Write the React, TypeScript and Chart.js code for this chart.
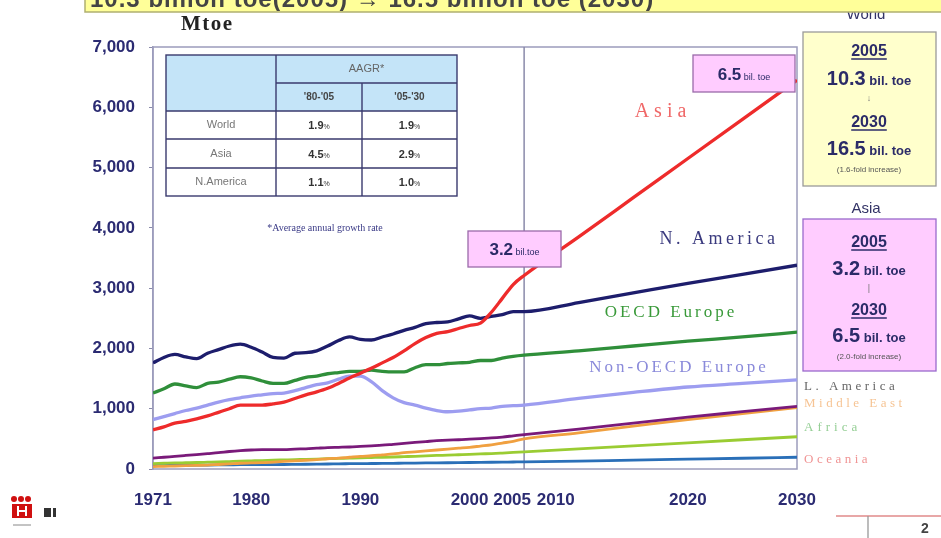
import React, { useEffect, useRef } from "react";
import { Chart, registerables } from "chart.js";

Chart.register(...registerables);

// ---------- data ----------
const YEARS = [
  1971, 1972, 1973, 1974, 1975, 1976, 1977, 1978, 1979, 1980,
  1981, 1982, 1983, 1984, 1985, 1986, 1987, 1988, 1989, 1990,
  1991, 1992, 1993, 1994, 1995, 1996, 1997, 1998, 1999, 2000,
  2001, 2002, 2003, 2004, 2005, 2010, 2015, 2020, 2025, 2030,
];
const X_TICKS = [1971, 1980, 1990, 2000, 2005, 2010, 2020, 2030];
const Y_TICK_STEP = 1000;
const Y_MAX = 7000;
const PROJECTION_START = 2005;

const ASIA = [
  650, 700, 760, 790, 830, 880, 940, 1000, 1060, 1060,
  1060, 1080, 1110, 1170, 1230, 1280, 1340, 1420, 1510, 1590,
  1670, 1760, 1850, 1960, 2080, 2180, 2250, 2280, 2330, 2380,
  2420, 2600, 2830, 3060, 3210, 3850, 4500, 5150, 5800, 6450,
];
const N_AMERICA = [
  1760, 1850, 1900, 1860, 1830, 1920, 1980, 2040, 2070, 2020,
  1940, 1850, 1840, 1920, 1930, 1960, 2040, 2130, 2190, 2150,
  2140, 2190, 2240, 2300, 2350, 2410, 2430, 2440, 2490, 2540,
  2500, 2530, 2560, 2610, 2610, 2760, 2920, 3080, 3230, 3380,
];
const OECD_EUROPE = [
  1260, 1330, 1410, 1380, 1350, 1420, 1440, 1490, 1530, 1510,
  1460, 1420, 1420, 1470, 1520, 1540, 1580, 1600, 1620, 1620,
  1640, 1620, 1610, 1610, 1680, 1730, 1730, 1750, 1760, 1770,
  1800, 1800, 1840, 1870, 1890, 1960, 2040, 2120, 2190, 2270,
];
const NON_OECD_EUROPE = [
  820, 870, 920, 970, 1010, 1060, 1110, 1150, 1180, 1210,
  1230, 1250, 1260, 1300, 1350, 1400, 1430, 1490, 1540, 1540,
  1450, 1300, 1180, 1100, 1060, 1010, 970, 950, 960, 980,
  1000, 1010, 1040, 1050, 1060, 1170, 1270, 1360, 1420, 1480,
];
const L_AMERICA = [
  180, 195, 210, 225, 240, 255, 270, 290, 305, 315,
  320, 320, 320, 330, 335, 345, 355, 360, 365, 375,
  385, 395, 410, 425, 440, 455, 470, 480, 485, 495,
  505, 515, 530, 550, 570, 660, 760, 860, 950, 1040,
];
const MIDDLE_EAST = [
  40, 45, 50, 55, 60, 65, 75, 85, 95, 100,
  105, 115, 125, 135, 145, 155, 170, 180, 195, 210,
  220, 235, 250, 270, 285, 300, 315, 330, 345, 360,
  380, 400, 430, 460, 500, 600, 710, 820, 920, 1020,
];
const AFRICA = [
  90, 95, 100, 104, 108, 113, 118, 124, 130, 135,
  140, 146, 151, 156, 160, 165, 171, 176, 181, 186,
  190, 194, 199, 205, 211, 219, 225, 230, 236, 242,
  250, 256, 265, 275, 285, 335, 385, 435, 485, 535,
];
const OCEANIA = [
  55, 57, 59, 61, 63, 65, 67, 69, 71, 72,
  73, 74, 75, 77, 79, 81, 83, 86, 88, 90,
  91, 92, 94, 96, 98, 100, 102, 104, 106, 108,
  110, 112, 114, 116, 118, 132, 148, 163, 178, 195,
];

const SERIES_NAMES = [
  "Asia", "N. America", "OECD Europe", "Non-OECD Europe",
  "L. America", "Middle East", "Africa", "Oceania",
];
const SERIES_VALUES = [
  ASIA, N_AMERICA, OECD_EUROPE, NON_OECD_EUROPE,
  L_AMERICA, MIDDLE_EAST, AFRICA, OCEANIA,
];
const SERIES_COLORS = [
  "#ee2b2b", "#1d1d6c", "#2f8f3a", "#9d9df0",
  "#7a1a7a", "#f0a040", "#9acc33", "#2a6fb8",
];

const TABLE_ROWS = ["World", "Asia", "N.America"];
const TABLE_PERIODS = ["'80-'05", "'05-'30"];
const AAGR_80_05 = ["1.9", "4.5", "1.1"];
const AAGR_05_30 = ["1.9", "2.9", "1.0"];

const WORLD_2005 = "10.3";
const WORLD_2030 = "16.5";
const ASIA_2005 = "3.2";
const ASIA_2030 = "6.5";

// crowded x labels are nudged left, as in the original slide
const X_LABEL_NUDGE: Record<number, number> = { 2005: -12, 2010: -23 };

const NAVY = "#2b2b68";
const TICK_COLOR = "#2b2b72";
const TICK_FONT_CSS = "bold 17px 'Liberation Sans', Arial, sans-serif";

type Part = { t: string; font: string; color?: string };

function drawParts(ctx: CanvasRenderingContext2D, parts: Part[], cx: number, cy: number, color: string) {
  let total = 0;
  const widths = parts.map((p) => {
    ctx.font = p.font;
    const w = ctx.measureText(p.t).width;
    total += w;
    return w;
  });
  let x = cx - total / 2;
  ctx.textAlign = "left";
  ctx.textBaseline = "alphabetic";
  parts.forEach((p, i) => {
    ctx.font = p.font;
    ctx.fillStyle = p.color || color;
    ctx.fillText(p.t, x, cy);
    x += widths[i];
  });
}

function spacedText(ctx: CanvasRenderingContext2D, t: string, x: number, y: number, font: string, color: string, spacing: number, align: CanvasTextAlign = "left") {
  ctx.save();
  ctx.font = font;
  ctx.fillStyle = color;
  (ctx as any).letterSpacing = spacing + "px";
  ctx.textAlign = align;
  ctx.textBaseline = "middle";
  ctx.fillText(t, x, y);
  ctx.restore();
}

function underlined(ctx: CanvasRenderingContext2D, t: string, cx: number, y: number, font: string, color: string) {
  ctx.font = font;
  ctx.fillStyle = color;
  ctx.textAlign = "center";
  ctx.textBaseline = "alphabetic";
  ctx.fillText(t, cx, y);
  const w = ctx.measureText(t).width;
  ctx.strokeStyle = color;
  ctx.lineWidth = 1.3;
  ctx.beginPath();
  ctx.moveTo(cx - w / 2, y + 3);
  ctx.lineTo(cx + w / 2, y + 3);
  ctx.stroke();
}

const framePlugin = {
  id: "frame",
  beforeDatasetsDraw(chart: any) {
    const { ctx, chartArea: a, scales } = chart;
    ctx.save();
    ctx.strokeStyle = "#9c9cbc";
    ctx.lineWidth = 1.5;
    ctx.strokeRect(a.left, a.top, a.right - a.left, a.bottom - a.top);
    const x = scales.x.getPixelForValue(PROJECTION_START);
    ctx.strokeStyle = "#8a8aaa";
    ctx.lineWidth = 1.5;
    ctx.beginPath();
    ctx.moveTo(x, a.top);
    ctx.lineTo(x, a.bottom);
    ctx.stroke();

    // x tick labels from the x scale
    ctx.font = TICK_FONT_CSS;
    ctx.fillStyle = TICK_COLOR;
    ctx.textAlign = "center";
    ctx.textBaseline = "middle";
    X_TICKS.forEach((v) => {
      const px = scales.x.getPixelForValue(v) + (X_LABEL_NUDGE[v] || 0);
      ctx.fillText(String(v), px, a.bottom + 31);
    });
    ctx.restore();
  },
};

const annotationPlugin = {
  id: "annotations",
  afterDraw(chart: any) {
    const ctx: CanvasRenderingContext2D = chart.ctx;
    ctx.save();

    // ---- "Mtoe" unit label
    ctx.font = "bold 21px 'Liberation Serif', serif";
    ctx.fillStyle = "#222";
    ctx.textAlign = "left";
    ctx.textBaseline = "middle";
    (ctx as any).letterSpacing = "1.5px";
    ctx.fillText("Mtoe", 181, 25);
    (ctx as any).letterSpacing = "0px";

    // ---- AAGR table
    const tL = 166, tR = 457, tT = 55, tB = 196;
    const c1 = 276, c2 = 362;
    const r1 = 83, r2 = 111, r3 = 139, r4 = 168;
    ctx.fillStyle = "#ffffff";
    ctx.fillRect(tL, tT, tR - tL, tB - tT);
    ctx.fillStyle = "#c4e4f8";
    ctx.fillRect(tL, tT, tR - tL, r2 - tT);
    ctx.strokeStyle = "#3a3a6e";
    ctx.lineWidth = 1.4;
    ctx.strokeRect(tL, tT, tR - tL, tB - tT);
    ctx.beginPath();
    ctx.moveTo(c1, r1); ctx.lineTo(tR, r1);
    [r2, r3, r4].forEach((r) => { ctx.moveTo(tL, r); ctx.lineTo(tR, r); });
    ctx.moveTo(c1, tT); ctx.lineTo(c1, tB);
    ctx.moveTo(c2, r1); ctx.lineTo(c2, tB);
    ctx.stroke();
    ctx.textAlign = "center";
    ctx.textBaseline = "middle";
    ctx.font = "11px 'Liberation Sans', Arial, sans-serif";
    ctx.fillStyle = "#666";
    ctx.fillText("AAGR*", (c1 + tR) / 2, (tT + r1) / 2);
    ctx.font = "bold 10px 'Liberation Sans', Arial, sans-serif";
    ctx.fillStyle = "#444";
    ctx.fillText(TABLE_PERIODS[0], (c1 + c2) / 2, (r1 + r2) / 2);
    ctx.fillText(TABLE_PERIODS[1], (c2 + tR) / 2, (r1 + r2) / 2);
    const rowMids = [(r2 + r3) / 2, (r3 + r4) / 2, (r4 + tB) / 2];
    TABLE_ROWS.forEach((name, i) => {
      ctx.font = "11px 'Liberation Sans', Arial, sans-serif";
      ctx.fillStyle = "#777";
      ctx.textAlign = "center";
      ctx.textBaseline = "middle";
      ctx.fillText(name, (tL + c1) / 2, rowMids[i]);
      drawParts(ctx, [
        { t: AAGR_80_05[i], font: "bold 11px 'Liberation Sans', Arial, sans-serif" },
        { t: "%", font: "7px 'Liberation Sans', Arial, sans-serif" },
      ], (c1 + c2) / 2, rowMids[i] + 4, "#333");
      drawParts(ctx, [
        { t: AAGR_05_30[i], font: "bold 11px 'Liberation Sans', Arial, sans-serif" },
        { t: "%", font: "7px 'Liberation Sans', Arial, sans-serif" },
      ], (c2 + tR) / 2, rowMids[i] + 4, "#333");
    });
    ctx.font = "10px 'Liberation Serif', serif";
    ctx.fillStyle = "#3a3a86";
    ctx.textAlign = "center";
    ctx.textBaseline = "middle";
    ctx.fillText("*Average annual growth rate", 325, 228);

    // ---- series labels inside chart
    spacedText(ctx, "Asia", 663, 112, "20px 'Liberation Serif', serif", "#f06868", 5, "center");
    spacedText(ctx, "N. America", 719, 239, "18px 'Liberation Serif', serif", "#3a3a7e", 3.5, "center");
    spacedText(ctx, "OECD Europe", 671, 313, "17px 'Liberation Serif', serif", "#3a9a3a", 3, "center");
    spacedText(ctx, "Non-OECD Europe", 679, 368, "17px 'Liberation Serif', serif", "#8a8ada", 3, "center");

    // ---- right labels
    spacedText(ctx, "L. America", 804, 387, "13px 'Liberation Serif', serif", "#666666", 3.5);
    spacedText(ctx, "Middle East", 804, 404, "13px 'Liberation Serif', serif", "#f6c494", 3.5);
    spacedText(ctx, "Africa", 804, 428, "13px 'Liberation Serif', serif", "#96cf96", 4);
    spacedText(ctx, "Oceania", 804, 460, "13px 'Liberation Serif', serif", "#f09494", 3.5);

    // ---- value callout boxes
    const callout = (x: number, y: number, w: number, h: number, big: string, small: string) => {
      ctx.fillStyle = "#ffccff";
      ctx.fillRect(x, y, w, h);
      ctx.strokeStyle = "#9a6aaa";
      ctx.lineWidth = 1.3;
      ctx.strokeRect(x, y, w, h);
      drawParts(ctx, [
        { t: big, font: "bold 17px 'Liberation Sans', Arial, sans-serif" },
        { t: " " + small, font: "9px 'Liberation Sans', Arial, sans-serif" },
      ], x + w / 2, y + h / 2 + 6, "#2a2a66");
    };
    callout(468, 231, 93, 36, ASIA_2005, "bil.toe");
    callout(693, 55, 102, 37, ASIA_2030, "bil. toe");

    // ---- World box
    ctx.fillStyle = "#ffffcc";
    ctx.fillRect(803, 32, 133, 154);
    ctx.strokeStyle = "#9a9a9a";
    ctx.lineWidth = 1.3;
    ctx.strokeRect(803, 32, 133, 154);
    const bcx = 869;
    const bigF = "bold 20px 'Liberation Sans', Arial, sans-serif";
    const unitF = "bold 13px 'Liberation Sans', Arial, sans-serif";
    const yearF = "bold 16px 'Liberation Sans', Arial, sans-serif";
    underlined(ctx, "2005", bcx, 56, yearF, NAVY);
    drawParts(ctx, [{ t: WORLD_2005, font: bigF }, { t: " bil. toe", font: unitF }], bcx, 85, NAVY);
    ctx.font = "9px 'Liberation Sans', Arial, sans-serif";
    ctx.fillStyle = "#777";
    ctx.textAlign = "center";
    ctx.textBaseline = "middle";
    ctx.fillText("↓", bcx, 99);
    underlined(ctx, "2030", bcx, 127, yearF, NAVY);
    drawParts(ctx, [{ t: WORLD_2030, font: bigF }, { t: " bil. toe", font: unitF }], bcx, 155, NAVY);
    ctx.font = "8px 'Liberation Sans', Arial, sans-serif";
    ctx.fillStyle = "#555";
    ctx.textAlign = "center";
    ctx.textBaseline = "middle";
    ctx.fillText("(1.6-fold increase)", bcx, 170);

    // ---- Asia box
    ctx.font = "15px 'Liberation Sans', Arial, sans-serif";
    ctx.fillStyle = "#333366";
    ctx.textAlign = "center";
    ctx.textBaseline = "middle";
    ctx.fillText("Asia", 866, 209);
    ctx.fillStyle = "#ffccff";
    ctx.fillRect(803, 219, 133, 152);
    ctx.strokeStyle = "#9a6acc";
    ctx.lineWidth = 1.3;
    ctx.strokeRect(803, 219, 133, 152);
    underlined(ctx, "2005", bcx, 247, yearF, NAVY);
    drawParts(ctx, [{ t: ASIA_2005, font: bigF }, { t: " bil. toe", font: unitF }], bcx, 275, NAVY);
    ctx.font = "9px 'Liberation Sans', Arial, sans-serif";
    ctx.fillStyle = "#777";
    ctx.textAlign = "center";
    ctx.textBaseline = "middle";
    ctx.fillText("|", bcx, 289);
    underlined(ctx, "2030", bcx, 315, yearF, NAVY);
    drawParts(ctx, [{ t: ASIA_2030, font: bigF }, { t: " bil. toe", font: unitF }], bcx, 342, NAVY);
    ctx.font = "8px 'Liberation Sans', Arial, sans-serif";
    ctx.fillStyle = "#555";
    ctx.textAlign = "center";
    ctx.textBaseline = "middle";
    ctx.fillText("(2.0-fold increase)", bcx, 357);

    // ---- "World" label (partly hidden under title bar)
    ctx.font = "15px 'Liberation Sans', Arial, sans-serif";
    ctx.fillStyle = "#333366";
    ctx.fillText("World", 866, 15);

    // ---- title bar (cut off at top)
    ctx.fillStyle = "#ffff99";
    ctx.fillRect(85, -4, 860, 16);
    ctx.strokeStyle = "#b0b070";
    ctx.lineWidth = 1.5;
    ctx.beginPath();
    ctx.moveTo(85, -4); ctx.lineTo(85, 12); ctx.lineTo(941, 12);
    ctx.stroke();
    ctx.save();
    ctx.beginPath();
    ctx.rect(85, 0, 856, 11);
    ctx.clip();
    ctx.font = "bold 24px 'Liberation Sans', Arial, sans-serif";
    ctx.fillStyle = "#444444";
    ctx.textAlign = "left";
    ctx.textBaseline = "alphabetic";
    (ctx as any).letterSpacing = "1px";
    ctx.fillText("10.3 billion toe(2005) → 16.5 billion toe (2030)", 90, 7);
    (ctx as any).letterSpacing = "0px";
    ctx.restore();

    // ---- logo bottom-left
    ctx.fillStyle = "#d01010";
    [14, 21, 28].forEach((cx) => {
      ctx.beginPath();
      ctx.arc(cx, 499, 3, 0, Math.PI * 2);
      ctx.fill();
    });
    ctx.fillRect(12, 504, 20, 14);
    ctx.fillStyle = "#ffffff";
    ctx.fillRect(17, 506, 2, 10);
    ctx.fillRect(25, 506, 2, 10);
    ctx.fillRect(17, 510, 10, 2);
    ctx.strokeStyle = "#888";
    ctx.lineWidth = 1;
    ctx.beginPath();
    ctx.moveTo(13, 525); ctx.lineTo(31, 525);
    ctx.stroke();
    ctx.fillStyle = "#333";
    ctx.fillRect(44, 508, 7, 9);
    ctx.fillRect(53, 508, 3, 9);

    // ---- page number
    ctx.strokeStyle = "#e08a8a";
    ctx.lineWidth = 1.3;
    ctx.beginPath();
    ctx.moveTo(836, 516); ctx.lineTo(941, 516);
    ctx.stroke();
    ctx.strokeStyle = "#999";
    ctx.beginPath();
    ctx.moveTo(868, 516); ctx.lineTo(868, 538);
    ctx.stroke();
    ctx.font = "bold 14px 'Liberation Sans', Arial, sans-serif";
    ctx.fillStyle = "#444";
    ctx.textAlign = "center";
    ctx.textBaseline = "middle";
    ctx.fillText("2", 925, 529);

    ctx.restore();
  },
};

export default function App() {
  const ref = useRef<HTMLCanvasElement | null>(null);

  useEffect(() => {
    const canvas = ref.current;
    if (!canvas) return;
    const datasets = SERIES_NAMES.map((name, i) => ({
      label: name,
      data: YEARS.map((yr, j) => ({ x: yr, y: SERIES_VALUES[i][j] })),
      borderColor: SERIES_COLORS[i],
      backgroundColor: SERIES_COLORS[i],
      borderWidth: i < 4 ? 3.3 : 2.8,
      pointRadius: 0,
      fill: false,
      tension: 0.35,
      cubicInterpolationMode: "monotone" as const,
    }));

    const tickFont = { family: "'Liberation Sans', Arial, sans-serif", size: 17, weight: "bold" as const };

    const chart = new Chart(canvas, {
      type: "line",
      data: { datasets },
      options: {
        animation: false,
        responsive: false,
        maintainAspectRatio: false,
        layout: { padding: { top: 47, right: 144, left: 0, bottom: 0 } },
        plugins: {
          legend: { display: false },
          tooltip: { enabled: false },
          title: { display: false },
        },
        scales: {
          x: {
            type: "linear",
            min: YEARS[0],
            max: YEARS[YEARS.length - 1],
            afterBuildTicks: (axis: any) => {
              axis.ticks = X_TICKS.map((v) => ({ value: v }));
            },
            afterFit: (scale: any) => {
              scale.height = 69;
            },
            ticks: { display: false },
            grid: { display: false, drawTicks: false },
            border: { display: false },
          },
          y: {
            min: 0,
            max: Y_MAX,
            afterFit: (scale: any) => {
              scale.width = 153;
            },
            ticks: {
              stepSize: Y_TICK_STEP,
              padding: 14,
              color: TICK_COLOR,
              font: tickFont,
              callback: (v: any) => Number(v).toLocaleString("en-US"),
            },
            grid: { drawOnChartArea: false, tickLength: 4, color: "#8a8aaa" },
            border: { display: true, color: "#9c9cbc", width: 1.5 },
          },
        },
      },
      plugins: [framePlugin, annotationPlugin],
    });
    return () => chart.destroy();
  }, []);

  return (
    <div style={{ position: "fixed", left: 0, top: 0, width: 941, height: 538, background: "#ffffff" }}>
      <canvas ref={ref} width={941} height={538} style={{ display: "block", width: 941, height: 538 }} />
    </div>
  );
}
